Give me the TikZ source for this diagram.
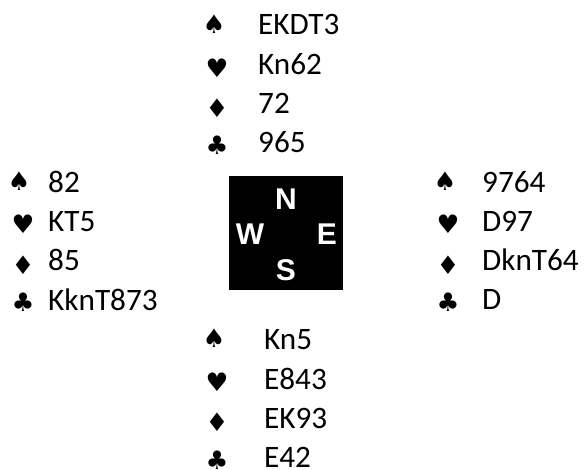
\documentclass[tikz,border=0pt]{standalone}
\usepackage{fontspec}
\setmainfont{Carlito}
\newfontfamily\suitfont{DejaVu Sans}
\newfontfamily\compassfont{Liberation Sans}
\tikzset{
  x=1pt,y=-1pt,
  holding/.style={anchor=base west,inner sep=0pt,font=\fontsize{31.2}{31.2}\selectfont,text=black},
  suit/.style={anchor=base,inner sep=0pt,font=\suitfont\fontsize{25.5}{25.5}\selectfont,text=black},
  compass/.style={anchor=base,inner sep=0pt,font=\compassfont\bfseries\fontsize{30}{30}\selectfont,text=white},
  board/.style={fill=black,draw=none,inner sep=0pt,minimum size=114pt}
}
\begin{document}
\begin{tikzpicture}
\useasboundingbox (0,0) rectangle (584,469);
\node[board] (box) at (286,233) {};
\node[compass] (cn) at (286,209) {N};
\node[compass] (cw) at (250,244) {W};
\node[compass] (ce) at (327,244) {E};
\node[compass] (cs) at (286,280) {S};
% North
\node[suit] (n1) at (214,33.5) {♠}; \node[holding] (nt1) at (258,34.5) {EKDT3};
\node[suit] (n2) at (217,77) {♥}; \node[holding] (nt2) at (258,74) {Kn62};
\node[suit] (n3) at (217,117.5) {♦}; \node[holding] (nt3) at (258,113) {72};
\node[suit] (n4) at (217,154) {♣}; \node[holding] (nt4) at (258,152) {965};
% West
\node[suit] (w1) at (19,190.5) {♠}; \node[holding] (wt1) at (48,192) {82};
\node[suit] (w2) at (23,233.5) {♥}; \node[holding] (wt2) at (48,231) {KT5};
\node[suit] (w3) at (23,274.5) {♦}; \node[holding] (wt3) at (48,270) {85};
\node[suit] (w4) at (23,311.5) {♣}; \node[holding] (wt4) at (48,310) {KknT873};
% East
\node[suit] (e1) at (445,190.5) {♠}; \node[holding] (et1) at (482,192) {9764};
\node[suit] (e2) at (448,233.5) {♥}; \node[holding] (et2) at (482,231) {D97};
\node[suit] (e3) at (448,274.5) {♦}; \node[holding] (et3) at (482,270) {DknT64};
\node[suit] (e4) at (448,311.5) {♣}; \node[holding] (et4) at (482,309) {D};
% South
\node[suit] (s1) at (214,347.5) {♠}; \node[holding] (st1) at (264,349) {Kn5};
\node[suit] (s2) at (217,391) {♥}; \node[holding] (st2) at (264,389) {E843};
\node[suit] (s3) at (217,431.5) {♦}; \node[holding] (st3) at (264,428) {EK93};
\node[suit] (s4) at (217,469.5) {♣}; \node[holding] (st4) at (264,467) {E42};
\end{tikzpicture}
\end{document}
